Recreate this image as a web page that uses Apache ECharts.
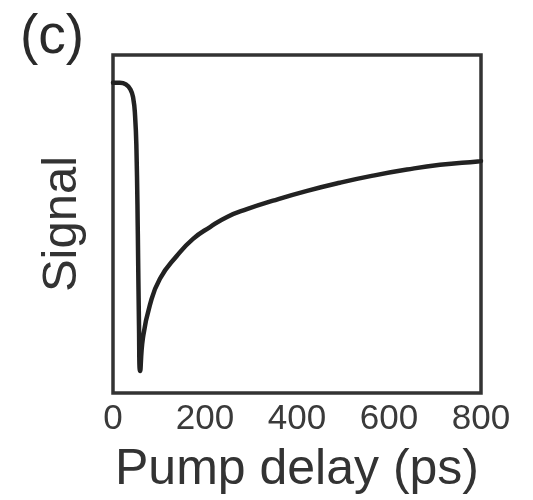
<!DOCTYPE html>
<html>
<head>
<meta charset="utf-8">
<script src="https://cdn.jsdelivr.net/npm/echarts@6/dist/echarts.min.js"></script>
<style>html,body{margin:0;padding:0;background:#fff}#c{width:533px;height:500px}</style>
</head>
<body>
<div id="c"></div>
<script>
// Pump delay (ps)
var delays = [0, 15, 28, 38, 44, 48, 51, 54, 56.5, 59, 65, 80, 102, 139, 174, 211, 248, 291, 348, 422, 493, 565, 639, 711, 793, 800];
// Signal (arbitrary units, 0..1 of frame height)
var signal = [0.918, 0.918, 0.913, 0.898, 0.872, 0.82, 0.72, 0.47, 0.20, 0.065, 0.162, 0.259, 0.338, 0.406, 0.456, 0.491, 0.521, 0.544, 0.569, 0.598, 0.622, 0.643, 0.661, 0.675, 0.685, 0.686];
var xTicks = [0, 200, 400, 600, 800];
var panelLabel = '(c)';
var xTitle = 'Pump delay (ps)';
var yTitle = 'Signal';

var data = delays.map(function (d, i) { return [d, signal[i]]; });
var chart = echarts.init(document.getElementById('c'), null, {renderer: 'canvas'});
var font = 'Liberation Sans, Arial, Helvetica, sans-serif';
chart.setOption({
  animation: false,
  backgroundColor: '#fff',
  title: {
    text: panelLabel, left: 15, top: 5,
    textStyle: {fontFamily: font, fontSize: 55, fontWeight: 'normal', color: '#2a2a2a'}
  },
  grid: {
    left: 113, right: 52, top: 55, bottom: 105,
    show: true, borderColor: '#333', borderWidth: 3.5, backgroundColor: '#fff'
  },
  xAxis: {
    type: 'value', min: 0, max: 800, interval: 200,
    axisLine: {show: false}, axisTick: {show: false}, splitLine: {show: false},
    axisLabel: {
      fontFamily: font, fontSize: 35, color: '#3a3a3a', margin: 9,
      formatter: function (v) { return xTicks.indexOf(v) >= 0 ? String(v) : ''; }
    },
    name: xTitle, nameLocation: 'middle', nameGap: 52,
    nameTextStyle: {fontFamily: font, fontSize: 50, color: '#333', verticalAlign: 'top'}
  },
  yAxis: {
    type: 'value', min: 0, max: 1,
    axisLine: {show: false}, axisTick: {show: false}, splitLine: {show: false},
    axisLabel: {show: false},
    name: yTitle, nameLocation: 'middle', nameGap: 26, nameRotate: 90,
    nameTextStyle: {fontFamily: font, fontSize: 49, color: '#333'}
  },
  series: [{
    type: 'line', data: data, showSymbol: false, smooth: 0.5,
    lineStyle: {color: '#222', width: 4.5, cap: 'round', join: 'round'},
    clip: true
  }]
});
</script>
</body>
</html>
